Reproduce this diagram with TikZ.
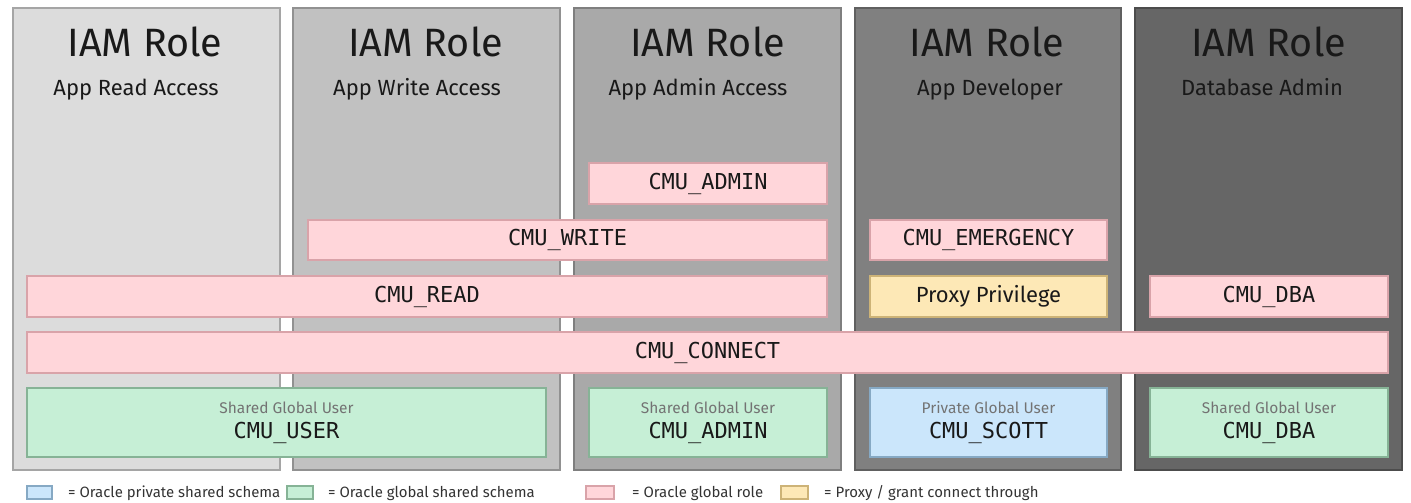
\documentclass[tikz,border=0pt]{standalone}
\usepackage{fontspec}
\setmainfont{Fira Sans}
\newfontfamily\codefont{DejaVu Sans Mono}
\definecolor{colA}{HTML}{DCDCDC}
\definecolor{colB}{HTML}{C1C1C1}
\definecolor{colC}{HTML}{A9A9A9}
\definecolor{colD}{HTML}{808080}
\definecolor{colE}{HTML}{666666}
\definecolor{rolefill}{HTML}{FFD6DA}
\definecolor{roleline}{HTML}{D9A3A9}
\definecolor{globalfill}{HTML}{C6EFD6}
\definecolor{globalline}{HTML}{86B396}
\definecolor{privfill}{HTML}{CBE6FB}
\definecolor{privline}{HTML}{86A9C4}
\definecolor{proxyfill}{HTML}{FDE8B6}
\definecolor{proxyline}{HTML}{CDB377}
\tikzset{
  column/.style={draw=#1!75!black, fill=#1, line width=0.6pt},
  role/.style={draw=roleline, fill=rolefill, line width=0.6pt},
  globaluser/.style={draw=globalline, fill=globalfill, line width=0.6pt},
  privuser/.style={draw=privline, fill=privfill, line width=0.6pt},
  proxy/.style={draw=proxyline, fill=proxyfill, line width=0.6pt},
  title/.style={font=\fontsize{22.5}{24}\selectfont, text=black!90},
  subtitle/.style={font=\fontsize{12.5}{14}\selectfont, text=black!90,
    text height=1.6ex, text depth=.4ex},
  code/.style={font=\codefont\fontsize{12.5}{14}\selectfont, text=black!90},
  kind/.style={font=\fontsize{8.8}{10}\selectfont, text=black!55},
  legend/.style={font=\fontsize{8.5}{10}\selectfont, text=black!80, anchor=west},
}
\begin{document}
\begin{tikzpicture}[x=0.02cm, y=-0.02cm]
  \useasboundingbox (0,0) rectangle (1411,503);

  \draw[column=colA] (13,8) rectangle (280,470);
  \draw[column=colB] (293,8) rectangle (560,470);
  \draw[column=colC] (574,8) rectangle (841,470);
  \draw[column=colD] (855,8) rectangle (1121,470);
  \draw[column=colE] (1135,8) rectangle (1402,470);

  \node[title] (iamA) at (145,42) {IAM Role};
  \node[title] (iamB) at (425.5,42) {IAM Role};
  \node[title] (iamC) at (707.5,42) {IAM Role};
  \node[title] (iamD) at (987,42) {IAM Role};
  \node[title] (iamE) at (1268.5,42) {IAM Role};

  \node[subtitle] (readacc) at (136,90) {App Read Access};
  \node[subtitle] (writeacc) at (417,90) {App Write Access};
  \node[subtitle] (adminacc) at (698,90) {App Admin Access};
  \node[subtitle] (appdev) at (990,90) {App Developer};
  \node[subtitle] (dbadmin) at (1262,90) {Database Admin};

  \draw[role] (589,163) rectangle node[code] (admin) {CMU\_ADMIN} (827,204);
  \draw[role] (308,220) rectangle node[code] (write) {CMU\_WRITE} (827,260);
  \draw[role] (870,220) rectangle node[code] (emergency) {CMU\_EMERGENCY} (1107,260);
  \draw[role] (27,276) rectangle node[code] (read) {CMU\_READ} (827,317);
  \draw[proxy] (870,276) rectangle node[subtitle] (proxypriv) {Proxy Privilege} (1107,317);
  \draw[role] (1150,276) rectangle node[code] (dba) {CMU\_DBA} (1388,317);
  \draw[role] (27,332) rectangle node[code] (connect) {CMU\_CONNECT} (1388,373);

  \draw[globaluser] (27,388) rectangle (546,457);
  \node[kind] (userkind) at (286.5,408) {Shared Global User};
  \node[code] (user) at (286.5,433) {CMU\_USER};
  \draw[globaluser] (589,388) rectangle (827,457);
  \node[kind] (adminkind) at (708,408) {Shared Global User};
  \node[code] (adminuser) at (708,433) {CMU\_ADMIN};
  \draw[privuser] (870,388) rectangle (1107,457);
  \node[kind] (scottkind) at (988.5,408) {Private Global User};
  \node[code] (scott) at (988.5,433) {CMU\_SCOTT};
  \draw[globaluser] (1150,388) rectangle (1388,457);
  \node[kind] (dbakind) at (1269,408) {Shared Global User};
  \node[code] (dbauser) at (1269,433) {CMU\_DBA};

  \draw[privuser] (27,486) rectangle (52,499);
  \node[legend] (legpriv) at (62,493) {= Oracle private shared schema};
  \draw[globaluser] (287,486) rectangle (313,499);
  \node[legend] (legglobal) at (322,493) {= Oracle global shared schema};
  \draw[role] (586,486) rectangle (614,499);
  \node[legend] (legrole) at (626,493) {= Oracle global role};
  \draw[proxy] (781,486) rectangle (808,499);
  \node[legend] (legproxy) at (818,493) {= Proxy / grant connect through};
\end{tikzpicture}
\end{document}
